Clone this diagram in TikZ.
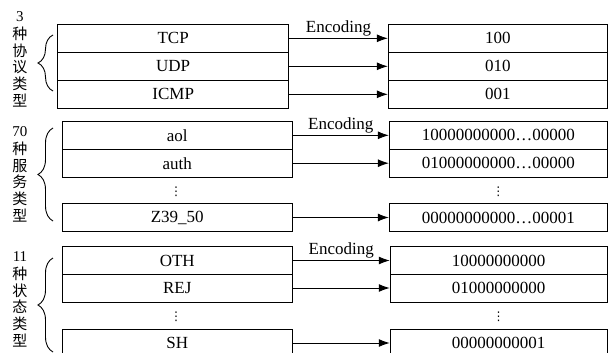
\documentclass[tikz,border=0pt]{standalone}
\usepackage{fontspec}
\setmainfont{Liberation Serif}
\newfontfamily\cjk{Noto Sans CJK SC}
\newfontfamily\dejavu{DejaVu Sans}
\usetikzlibrary{arrows.meta,decorations.pathreplacing}
\newcommand\zhc[1]{{\cjk #1}}
\begin{document}
\begin{tikzpicture}[x=1pt,y=-1pt,
  cell/.style={draw, line width=0.9pt, inner sep=0pt, minimum height=28pt,
    font=\fontsize{17}{17}\selectfont},
  lcell/.style={cell, minimum width=230pt},
  rcell/.style={cell, minimum width=218pt},
  arr/.style={line width=0.9pt, -{Latex[length=11pt,width=8pt]}},
  enc/.style={midway, above, inner sep=1.5pt, font=\fontsize{17}{17}\selectfont},
  lab/.style={align=center, inner sep=0pt, anchor=north, font=\fontsize{15}{16.7}\selectfont},
  brc/.style={decorate, decoration={brace, amplitude=15pt}, line width=0.9pt},
  dots/.style={inner sep=0pt, font=\dejavu\fontsize{12}{12}\selectfont}]
\clip (0,0) rectangle (616,353);
% group 1
\node[lcell, minimum width=231pt] (tcp) at (173.2,38.3) {TCP};
\node[lcell, minimum width=231pt] (udp) at (173.2,66.3) {UDP};
\node[lcell, minimum width=231pt] (icmp) at (173.2,94.3) {ICMP};
\node[rcell, minimum width=219pt] (c100) at (497.8,38.3) {100};
\node[rcell, minimum width=219pt] (c010) at (497.8,66.3) {010};
\node[rcell, minimum width=219pt] (c001) at (497.8,94.3) {001};
\draw[arr] (tcp.east) -- node[enc] (e1) {Encoding} (c100.west);
\draw[arr] (udp.east) -- (c010.west);
\draw[arr] (icmp.east) -- (c001.west);
\node[lab] (l1) at (20,11.5) {3\\[1pt]\zhc{种}\\\zhc{协}\\\zhc{议}\\\zhc{类}\\\zhc{型}};
\coordinate (b1a) at (53,91);
\coordinate (b1b) at (53,35);
\draw[brc] (b1a) -- (b1b);
% group 2
\node[lcell] (aol) at (177.3,135.3) {aol};
\node[lcell] (auth) at (177.3,163.2) {auth};
\node[dots] (d2l) at (176,192) {⋮};
\node[lcell] (z39) at (177.3,217.5) {Z39\_50};
\node[rcell] (s1) at (498.3,135.3) {10000000000…00000};
\node[rcell] (s2) at (498.3,163.2) {01000000000…00000};
\node[dots] (d2r) at (498.3,192) {⋮};
\node[rcell] (s3) at (498.3,217.5) {00000000000…00001};
\draw[arr] (aol.east) -- node[enc] (e2) {Encoding} (s1.west);
\draw[arr] (auth.east) -- (s2.west);
\draw[arr] (z39.east) -- (s3.west);
\node[lab] (l2) at (20,126.5) {70\\[1pt]\zhc{种}\\\zhc{服}\\\zhc{务}\\\zhc{类}\\\zhc{型}};
\coordinate (b2a) at (53,221);
\coordinate (b2b) at (53,128);
\draw[brc] (b2a) -- (b2b);
% group 3
\node[lcell] (oth) at (177.3,260.5) {OTH};
\node[lcell] (rej) at (177.3,288) {REJ};
\node[dots] (d3l) at (176,317) {⋮};
\node[lcell] (sh) at (177.3,343) {SH};
\node[rcell, minimum width=217pt] (t1) at (498.7,260.5) {10000000000};
\node[rcell, minimum width=217pt] (t2) at (498.7,288) {01000000000};
\node[dots] (d3r) at (498.7,317) {⋮};
\node[rcell, minimum width=217pt] (t3) at (498.7,343) {00000000001};
\draw[arr] (oth.east) -- node[enc] (e3) {Encoding} (t1.west);
\draw[arr] (rej.east) -- (t2.west);
\draw[arr] (sh.east) -- (t3.west);
\node[lab] (l3) at (20,251.5) {11\\[1pt]\zhc{种}\\\zhc{状}\\\zhc{态}\\\zhc{类}\\\zhc{型}};
\coordinate (b3a) at (53,352);
\coordinate (b3b) at (53,258);
\draw[brc] (b3a) -- (b3b);
\end{tikzpicture}
\end{document}
